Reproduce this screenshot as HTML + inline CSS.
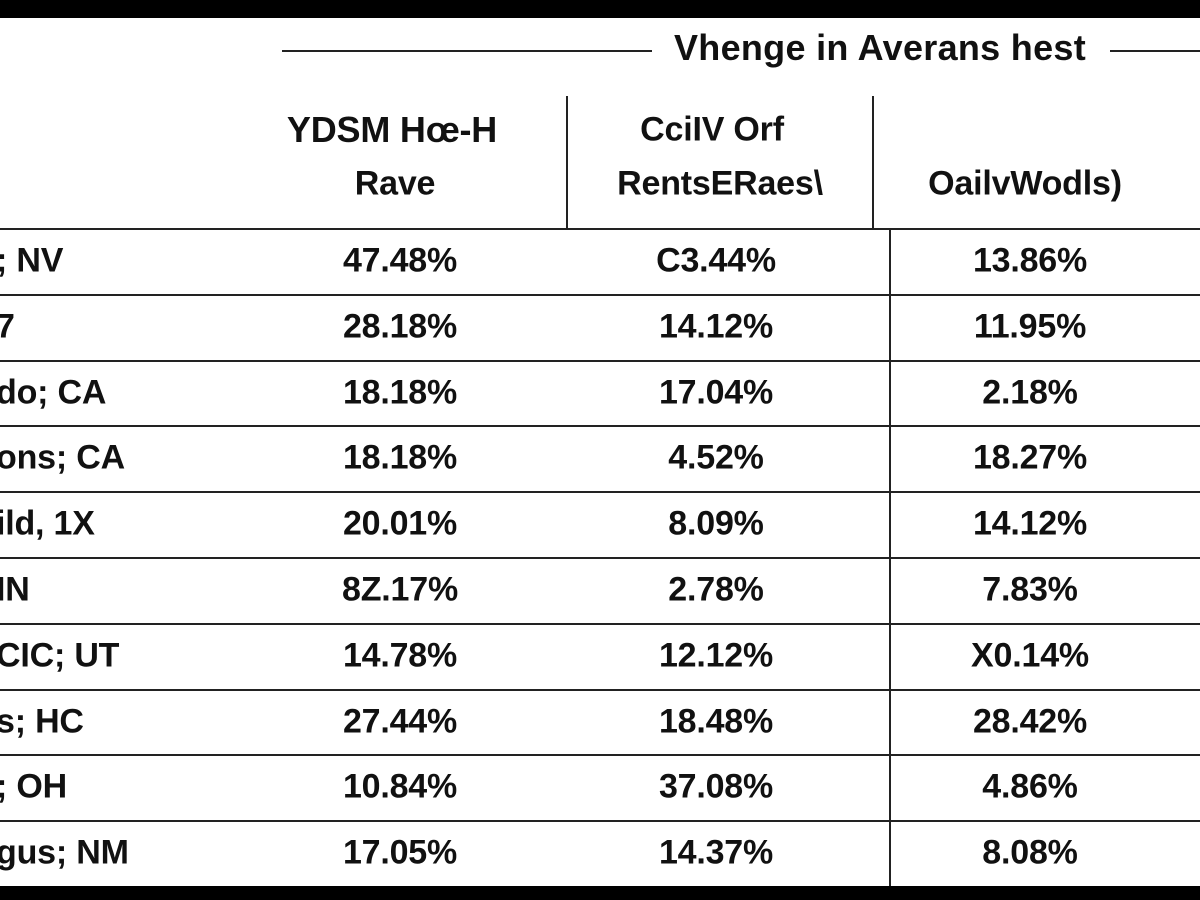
<!DOCTYPE html>
<html><head><meta charset="utf-8"><style>
body{margin:0;width:1200px;height:900px;background:#fff;position:relative;overflow:hidden;font-family:"Liberation Sans",sans-serif;color:#111}
.abs{position:absolute}
.t{position:absolute;font-size:34px;font-weight:bold;letter-spacing:-0.2px;white-space:nowrap;transform:translate(-50%,-50%)}
.l{position:absolute;font-size:34px;font-weight:bold;letter-spacing:-0.2px;white-space:nowrap;transform:translateY(-50%);left:-4px}
.h{position:absolute;background:#222;height:2px;left:0;width:1200px}
.v{position:absolute;background:#222;width:2px}
</style></head><body>
<div class="abs" style="left:0;top:0;width:1200px;height:18px;background:#000"></div>
<div class="abs" style="left:0;top:886px;width:1200px;height:14px;background:#000"></div>
<div class="abs" style="left:282px;top:50px;width:370px;height:2px;background:#222"></div>
<div class="abs" style="left:1110px;top:50px;width:90px;height:2px;background:#222"></div>
<div class="t" style="left:880px;top:48px;font-size:36px;letter-spacing:0.3px">Vhenge in Averans hest</div>
<div class="t" style="left:392px;top:130px;font-size:36px">YDSM Hœ-H</div>
<div class="t" style="left:395px;top:184px">Rave</div>
<div class="t" style="left:712px;top:130px">CciIV Orf</div>
<div class="t" style="left:720px;top:184px">RentsERaes\</div>
<div class="t" style="left:1025px;top:184px">OailvWodls)</div>
<div class="v" style="left:566px;top:96px;height:132px"></div>
<div class="v" style="left:872px;top:96px;height:132px"></div>
<div class="v" style="left:889px;top:228px;height:658px"></div>
<div id="rows"></div>
<script>
const labels=["; NV","7","do; CA","ons; CA","ild, 1X"," IN","CIC; UT","s; HC","; OH","gus; NM"];
const col1=["47.48%","28.18%","18.18%","18.18%","20.01%","8Z.17%","14.78%","27.44%","10.84%","17.05%"];
const col2=["C3.44%","14.12%","17.04%","4.52%","8.09%","2.78%","12.12%","18.48%","37.08%","14.37%"];
const col3=["13.86%","11.95%","2.18%","18.27%","14.12%","7.83%","X0.14%","28.42%","4.86%","8.08%"];
const root=document.getElementById('rows');
const top0=228,rh=65.8;
const hl=document.createElement('div');hl.className='h';hl.style.top=top0+'px';


root.appendChild(hl);
labels.forEach((lab,i)=>{
  const cy=top0+rh*i+rh/2;
  const mk=(cls,txt,x,name)=>{const d=document.createElement('div');d.className=cls;d.textContent=txt;d.style.top=cy+'px';if(x!==null)d.style.left=x+'px';
    
    
    root.appendChild(d);};
  mk('l',lab,null,'row-label');
  mk('t',col1[i],400,'col1-value');
  mk('t',col2[i],716,'col2-value');
  mk('t',col3[i],1030,'col3-value');
  if(i<labels.length-1){const r=document.createElement('div');r.className='h';r.style.top=(top0+rh*(i+1))+'px';
    
    
    root.appendChild(r);}
});
</script>
</body></html>
